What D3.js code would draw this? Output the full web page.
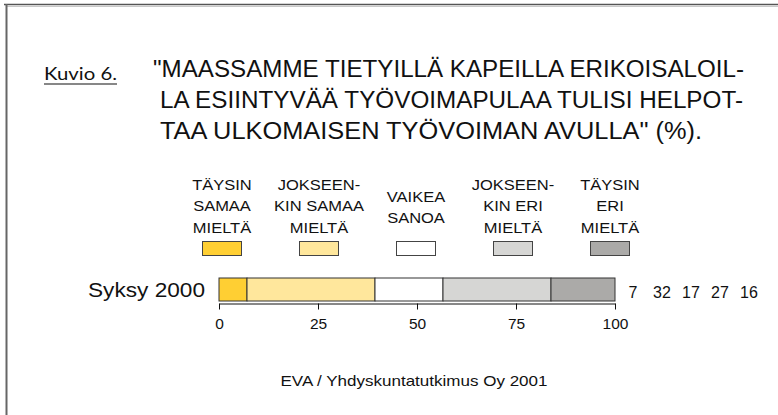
<!DOCTYPE html>
<html>
<head>
<meta charset="utf-8">
<script src="https://cdn.jsdelivr.net/npm/d3@7"></script>
<style>
  html, body { margin: 0; padding: 0; background: #fff; }
  svg { display: block; }
  text { font-family: "Liberation Sans", Arial, sans-serif; fill: #111; }
</style>
</head>
<body>
<svg id="chart" width="778" height="415"></svg>
<script>
// ---- data ----
const categories = ["Syksy 2000"];
const seriesKeys = ["ts", "js", "vs", "je", "te"];
const seriesLabels = [
  ["TÄYSIN", "SAMAA", "MIELTÄ"],
  ["JOKSEEN-", "KIN SAMAA", "MIELTÄ"],
  ["VAIKEA", "SANOA"],
  ["JOKSEEN-", "KIN ERI", "MIELTÄ"],
  ["TÄYSIN", "ERI", "MIELTÄ"]
];
const values = [7, 32, 17, 27, 16];
const seriesColors = ["#FFCF33", "#FFE79C", "#FFFFFF", "#D6D6D4", "#ABAAA8"];
const tickValues = [0, 25, 50, 75, 100];
const figureLabel = "Kuvio 6.";
const titleLines = [
  "\"MAASSAMME TIETYILLÄ KAPEILLA ERIKOISALOIL-",
  "LA ESIINTYVÄÄ TYÖVOIMAPULAA TULISI HELPOT-",
  "TAA ULKOMAISEN TYÖVOIMAN AVULLA\" (%)."
];
const sourceText = "EVA / Yhdyskuntatutkimus Oy 2001";

// ---- layout ----
const svg = d3.select("#chart");

// frame
svg.append("line").attr("x1", 4).attr("x2", 778).attr("y1", 4.5).attr("y2", 4.5)
  .attr("stroke", "#555").attr("stroke-width", 1.5);
svg.append("line").attr("x1", 6).attr("x2", 778).attr("y1", 6.5).attr("y2", 6.5)
  .attr("stroke", "#c8c8c8").attr("stroke-width", 1);
svg.append("line").attr("x1", 6.5).attr("x2", 6.5).attr("y1", 4).attr("y2", 415)
  .attr("stroke", "#666").attr("stroke-width", 2);

// figure label
svg.append("text").attr("x", 44).attr("y", 80)
  .attr("textLength", 73).attr("lengthAdjust", "spacingAndGlyphs")
  .style("font-family", "Lato, 'DejaVu Sans', sans-serif")
  .style("font-size", "18px").text(figureLabel);
svg.append("line").attr("x1", 44).attr("x2", 117).attr("y1", 84).attr("y2", 84)
  .attr("stroke", "#111").attr("stroke-width", 1.2);

// title
const titleLayout = [{x: 153, y: 76.5, w: 591}, {x: 160, y: 108, w: 583}, {x: 160, y: 139, w: 542}];
svg.selectAll("text.title").data(titleLines).join("text")
  .attr("class", "title")
  .attr("x", (d, i) => titleLayout[i].x)
  .attr("y", (d, i) => titleLayout[i].y)
  .attr("textLength", (d, i) => titleLayout[i].w)
  .attr("lengthAdjust", "spacingAndGlyphs")
  .style("font-size", "23.5px")
  .text(d => d);

// scales
const x = d3.scaleLinear().domain([0, 100]).range([219, 615]);
const y = d3.scaleBand().domain(categories).range([278, 301]).padding(0);
const legendX = d3.scalePoint().domain(seriesKeys).range([222, 610]);
const color = d3.scaleOrdinal().domain(seriesKeys).range(seriesColors);

// legend
const leg = svg.selectAll("g.leg").data(seriesKeys).join("g")
  .attr("class", "leg")
  .attr("transform", d => `translate(${legendX(d)},0)`);
leg.each(function(k, i) {
  const g = d3.select(this);
  const lines = seriesLabels[i];
  const y0 = lines.length === 3 ? 189.5 : 202;
  const dy = lines.length === 3 ? 21.5 : 21;
  lines.forEach((ln, j) => {
    g.append("text")
      .attr("text-anchor", "middle")
      .attr("transform", `translate(0,${y0 + j * dy}) scale(1.1,1)`)
      .style("font-size", "15px")
      .text(ln);
  });
  g.append("rect").attr("x", -19.5).attr("y", 241.5).attr("width", 39).attr("height", 14)
    .attr("fill", color(k)).attr("stroke", "#444").attr("stroke-width", 1);
});

// stacked bar (normalized to 100 %)
const row = {cat: categories[0]};
seriesKeys.forEach((k, i) => row[k] = values[i]);
const stack = d3.stack().keys(seriesKeys).offset(d3.stackOffsetExpand)([row]);

svg.append("g").selectAll("rect").data(stack).join("rect")
  .attr("x", s => x(s[0][0] * 100))
  .attr("width", s => x(s[0][1] * 100) - x(s[0][0] * 100))
  .attr("y", s => y(s[0].data.cat))
  .attr("height", y.bandwidth())
  .attr("fill", s => color(s.key))
  .attr("stroke", "#333").attr("stroke-width", 1);

// category label
svg.selectAll("text.cat").data(categories).join("text")
  .attr("class", "cat")
  .attr("x", 88).attr("y", d => y(d) + 19)
  .attr("textLength", 117).attr("lengthAdjust", "spacingAndGlyphs")
  .style("font-size", "19.5px")
  .text(d => d);

// value labels
svg.selectAll("text.val").data(values).join("text")
  .attr("class", "val")
  .attr("text-anchor", "middle")
  .attr("x", (d, i) => x(100) + 18 + i * 29)
  .attr("y", y(categories[0]) + 20)
  .style("font-size", "16px")
  .text(d => d);

// axis
const axis = svg.append("g").attr("transform", "translate(0,303.5)")
  .call(d3.axisBottom(x).tickValues(tickValues).tickSize(6).tickSizeOuter(0).tickPadding(8)
    .tickFormat(d3.format("d")));
axis.select(".domain").attr("stroke", "#111");
axis.selectAll(".tick line").attr("stroke", "#111");
axis.selectAll(".tick text")
  .style("font-family", "'Liberation Sans', Arial, sans-serif")
  .style("font-size", "15.5px").attr("fill", "#111");

// source
svg.append("text").attr("x", 414).attr("y", 386)
  .attr("text-anchor", "middle")
  .attr("textLength", 267).attr("lengthAdjust", "spacingAndGlyphs")
  .style("font-size", "15px")
  .text(sourceText);
</script>
</body>
</html>
